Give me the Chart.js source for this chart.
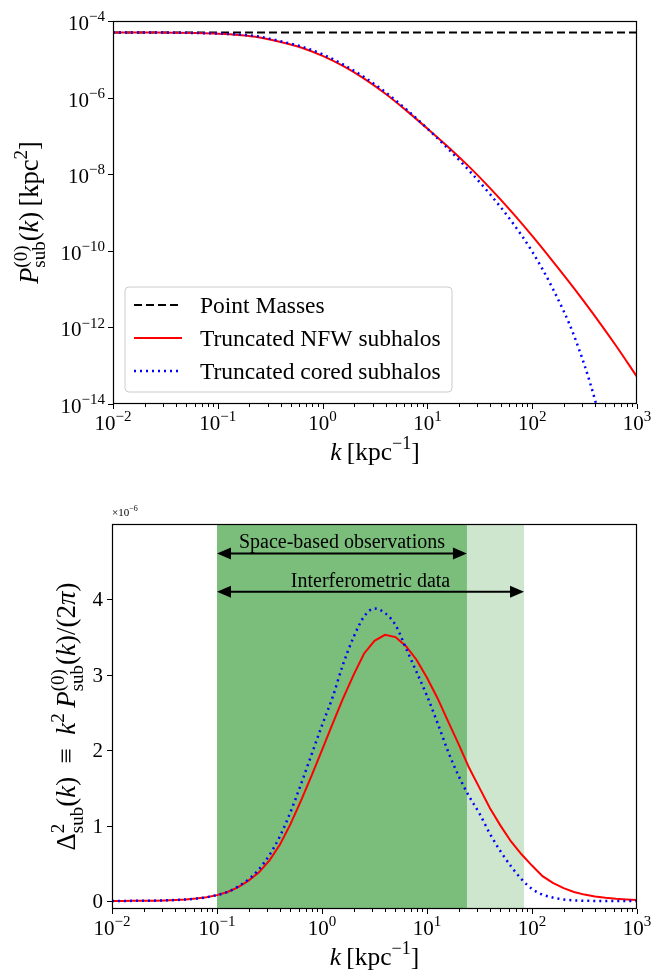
<!DOCTYPE html>
<html>
<head>
<meta charset="utf-8">
<script src="https://cdn.jsdelivr.net/npm/chart.js@4.4.1/dist/chart.umd.min.js"></script>
<style>
  html, body { margin: 0; padding: 0; background: #fff; }
  #wrap { position: relative; width: 667px; height: 971px; }
  canvas { position: absolute; left: 0; }
</style>
</head>
<body>
<div id="wrap">
  <canvas id="topChart" width="667" height="485" style="top:0"></canvas>
  <canvas id="bottomChart" width="667" height="486" style="top:485px"></canvas>
</div>
<script>
// ---- data ----

// top panel: P_sub^(0)(k) [kpc^2]
const kTop = [0.01, 0.0158, 0.0251, 0.0398, 0.0631, 0.1, 0.158, 0.251, 0.398, 0.631,
  1, 1.58, 2.51, 3.98, 6.31, 10, 15.8, 25.1, 39.8, 63.1, 100, 158, 251, 398, 631, 1000];
const nfwTop = [5.0e-5, 5.0e-5, 4.98e-5, 4.93e-5, 4.83e-5, 4.65e-5, 4.32e-5, 3.72e-5, 2.82e-5, 2.00e-5,
  1.23e-5, 6.61e-6, 3.09e-6, 1.26e-6, 4.57e-7, 1.55e-7, 5.13e-8, 1.55e-8, 4.27e-9, 1.07e-9,
  2.45e-10, 5.25e-11, 1.05e-11, 1.95e-12, 3.31e-13, 5.13e-14];
const coredTop = [5.0e-5, 5.0e-5, 4.99e-5, 4.95e-5, 4.86e-5, 4.70e-5, 4.42e-5, 3.89e-5, 2.95e-5, 2.14e-5,
  1.35e-5, 7.24e-6, 3.39e-6, 1.38e-6, 4.90e-7, 1.55e-7, 4.57e-8, 1.23e-8, 2.95e-9, 6.03e-10,
  9.55e-11, 1.0e-11, 6.03e-13, 1.26e-14, 6.3e-17, 1.0e-19];
const kPoint = [0.01, 1000];
const pointMass = [5.0e-5, 5.0e-5];

// bottom panel: Delta^2_sub(k), in units of 1e-6
const kBottom = [0.01, 0.0126, 0.0158, 0.02, 0.0251, 0.0316, 0.0398, 0.0501, 0.0631, 0.0794,
  0.1, 0.126, 0.158, 0.2, 0.251, 0.316, 0.398, 0.501, 0.631, 0.794,
  1, 1.26, 1.58, 2.0, 2.51, 3.16, 3.98, 5.01, 6.31, 7.94,
  10, 12.6, 15.8, 20, 25.1, 31.6, 39.8, 50.1, 63.1, 79.4,
  100, 126, 158, 200, 251, 316, 398, 501, 631, 794, 1000];
const nfwDelta = [0.001, 0.001, 0.002, 0.003, 0.005, 0.008, 0.013, 0.020, 0.032, 0.050,
  0.078, 0.12, 0.18, 0.27, 0.38, 0.54, 0.75, 1.02, 1.33, 1.66,
  2.00, 2.35, 2.68, 3.00, 3.28, 3.45, 3.53, 3.50, 3.38, 3.20,
  2.96, 2.69, 2.39, 2.08, 1.77, 1.50, 1.23, 1.00, 0.79, 0.62,
  0.47, 0.33, 0.24, 0.17, 0.12, 0.085, 0.060, 0.042, 0.029, 0.020, 0.013];
const coredDelta = [0.001, 0.001, 0.002, 0.003, 0.005, 0.008, 0.013, 0.020, 0.032, 0.050,
  0.079, 0.12, 0.19, 0.29, 0.42, 0.61, 0.86, 1.18, 1.55, 1.94,
  2.33, 2.70, 3.13, 3.50, 3.77, 3.88, 3.82, 3.66, 3.35, 3.04,
  2.72, 2.36, 1.99, 1.66, 1.39, 1.16, 0.89, 0.66, 0.46, 0.29,
  0.16, 0.085, 0.045, 0.020, 0.008, 0.003, 0.001, 0, 0, 0, 0];

// observational k ranges and arrow heights (bottom panel)
const spaceRange = [0.1, 24];
const interfRange = [0.1, 84];
const arrowLevels = [4.61, 4.1];
const arrowTexts = ['Space-based observations', 'Interferometric data'];

// ticks
const xTickExps = [-2, -1, 0, 1, 2, 3];
const topYTickExps = [-4, -6, -8, -10, -12, -14];
const bottomYTicks = [0, 1, 2, 3, 4];
const legendLabels = ['Point Masses', 'Truncated NFW subhalos', 'Truncated cored subhalos'];

// ---- text helpers ----
const SERIF = '"Liberation Serif", "DejaVu Serif", serif';
function fontOf(size, italic) {
  return (italic ? 'italic ' : '') + size + 'px ' + SERIF;
}

// parts: [text, italic, level(0 base, 1 sup, -1 sub), stackWithNext]
function layoutRich(ctx, parts, size) {
  let x = 0, stackX = null, stackW = 0;
  const items = [];
  parts.forEach(([text, italic, lvl, stack]) => {
    const s = lvl === 0 ? size : Math.round(size * 0.7);
    ctx.font = fontOf(s, italic);
    const w = ctx.measureText(text).width;
    const dy = lvl === 1 ? -size * 0.42 : lvl === -1 ? size * 0.28 : 0;
    if (stackX !== null) {
      items.push({ text, f: ctx.font, x: stackX, dy });
      x = stackX + Math.max(stackW, w);
      stackX = null;
    } else {
      items.push({ text, f: ctx.font, x, dy });
      if (stack) { stackX = x; stackW = w; }
      x += w;
    }
  });
  return { items, width: x };
}

function drawRich(ctx, parts, x, y, size, align, angle) {
  const lay = layoutRich(ctx, parts, size);
  ctx.save();
  ctx.translate(x, y);
  if (angle) ctx.rotate(angle);
  const x0 = align === 'center' ? -lay.width / 2 : align === 'right' ? -lay.width : 0;
  ctx.fillStyle = '#000';
  ctx.textAlign = 'left';
  ctx.textBaseline = 'alphabetic';
  lay.items.forEach(it => {
    ctx.font = it.f;
    ctx.fillText(it.text, x0 + it.x, it.dy);
  });
  ctx.restore();
}

function powLabel(e) {
  return [['10', false, 0], [(e < 0 ? '\u2212' : '') + Math.abs(e), false, 1]];
}

// ---- axis helpers ----
function drawFrame(ctx, a) {
  ctx.save();
  ctx.strokeStyle = '#000';
  ctx.lineWidth = 1.2;
  ctx.strokeRect(a.left + 0.5, a.top + 0.5, a.right - a.left - 1, a.bottom - a.top - 1);
  ctx.restore();
}

function drawLogX(ctx, sx, a) {
  ctx.save();
  ctx.strokeStyle = '#000';
  ctx.lineWidth = 1;
  ctx.beginPath();
  for (let e = xTickExps[0]; e < xTickExps[xTickExps.length - 1]; e++) {
    for (let m = 2; m <= 9; m++) {
      const px = Math.round(sx.getPixelForValue(m * Math.pow(10, e))) + 0.5;
      ctx.moveTo(px, a.bottom);
      ctx.lineTo(px, a.bottom + 3);
    }
  }
  xTickExps.forEach(e => {
    const px = Math.round(sx.getPixelForValue(Math.pow(10, e))) + 0.5;
    ctx.moveTo(px, a.bottom);
    ctx.lineTo(px, a.bottom + 5);
  });
  ctx.stroke();
  ctx.restore();
  xTickExps.forEach(e => {
    drawRich(ctx, powLabel(e), sx.getPixelForValue(Math.pow(10, e)), a.bottom + 26, 21, 'center');
  });
}

function xAxisTitle(ctx, a, y) {
  drawRich(ctx, [['k', true, 0], ['\u2009[kpc', false, 0], ['\u22121', false, 1], [']', false, 0]],
    (a.left + a.right) / 2, y, 25.5, 'center');
}

// ---- top panel decorations ----
const topDecor = {
  id: 'topDecor',
  afterDraw(chart) {
    const { ctx, chartArea: a, scales: { x, y } } = chart;
    drawFrame(ctx, a);
    drawLogX(ctx, x, a);

    ctx.save();
    ctx.strokeStyle = '#000';
    ctx.lineWidth = 1;
    ctx.beginPath();
    topYTickExps.forEach(e => {
      const py = Math.round(y.getPixelForValue(Math.pow(10, e))) + 0.5;
      ctx.moveTo(a.left, py);
      ctx.lineTo(a.left - 5, py);
    });
    ctx.stroke();
    ctx.restore();
    topYTickExps.forEach(e => {
      drawRich(ctx, powLabel(e), a.left - 8, y.getPixelForValue(Math.pow(10, e)) + 9, 21, 'right');
    });

    drawRich(ctx, [['P', true, 0], ['(0)', false, 1, true], ['sub', false, -1], ['(', false, 0], ['k', true, 0],
      [')', false, 0], ['\u2009[kpc', false, 0], ['2', false, 1], [']', false, 0]],
      38, (a.top + a.bottom) / 2, 26.5, 'center', -Math.PI / 2);
    xAxisTitle(ctx, a, a.bottom + 56);

    // legend box
    const lx = 125, ly = 287, lw = 327, lh = 105, r = 4;
    ctx.save();
    ctx.beginPath();
    ctx.moveTo(lx + r, ly);
    ctx.arcTo(lx + lw, ly, lx + lw, ly + lh, r);
    ctx.arcTo(lx + lw, ly + lh, lx, ly + lh, r);
    ctx.arcTo(lx, ly + lh, lx, ly, r);
    ctx.arcTo(lx, ly, lx + lw, ly, r);
    ctx.closePath();
    ctx.fillStyle = 'rgba(255,255,255,0.8)';
    ctx.fill();
    ctx.strokeStyle = '#cccccc';
    ctx.lineWidth = 1;
    ctx.stroke();
    const ds = chart.data.datasets;
    legendLabels.forEach((lab, i) => {
      const rowY = ly + 18 + i * 33;
      const d = ds[i];
      ctx.strokeStyle = d.borderColor;
      ctx.lineWidth = d.borderWidth;
      ctx.setLineDash(d.borderDash || []);
      ctx.beginPath();
      ctx.moveTo(lx + 9, rowY);
      ctx.lineTo(lx + 57, rowY);
      ctx.stroke();
      ctx.setLineDash([]);
      ctx.fillStyle = '#000';
      ctx.font = fontOf(23.5, false);
      ctx.textBaseline = 'alphabetic';
      ctx.fillText(lab, lx + 75, rowY + 8);
    });
    ctx.restore();
  }
};

// ---- bottom panel decorations ----
const bottomShade = {
  id: 'bottomShade',
  beforeDatasetsDraw(chart) {
    const { ctx, chartArea: a, scales: { x } } = chart;
    const x0 = x.getPixelForValue(interfRange[0]);
    const x1 = x.getPixelForValue(spaceRange[1]);
    const x2 = x.getPixelForValue(interfRange[1]);
    ctx.save();
    ctx.fillStyle = 'rgb(206,230,206)';
    ctx.fillRect(x0, a.top, x2 - x0, a.bottom - a.top);
    ctx.fillStyle = 'rgb(123,189,123)';
    ctx.fillRect(x0, a.top, x1 - x0, a.bottom - a.top);
    ctx.restore();
  }
};

function drawArrow(ctx, x1, x2, y) {
  const hl = 14, hw = 6;
  ctx.save();
  ctx.strokeStyle = '#000';
  ctx.fillStyle = '#000';
  ctx.lineWidth = 2;
  ctx.beginPath();
  ctx.moveTo(x1 + hl - 1, y);
  ctx.lineTo(x2 - hl + 1, y);
  ctx.stroke();
  ctx.beginPath();
  ctx.moveTo(x1, y);
  ctx.lineTo(x1 + hl, y - hw);
  ctx.lineTo(x1 + hl, y + hw);
  ctx.closePath();
  ctx.moveTo(x2, y);
  ctx.lineTo(x2 - hl, y - hw);
  ctx.lineTo(x2 - hl, y + hw);
  ctx.closePath();
  ctx.fill();
  ctx.restore();
}

const bottomDecor = {
  id: 'bottomDecor',
  afterDraw(chart) {
    const { ctx, chartArea: a, scales: { x, y } } = chart;
    drawFrame(ctx, a);
    drawLogX(ctx, x, a);

    ctx.save();
    ctx.strokeStyle = '#000';
    ctx.lineWidth = 1;
    ctx.beginPath();
    bottomYTicks.forEach(v => {
      const py = Math.round(y.getPixelForValue(v)) + 0.5;
      ctx.moveTo(a.left, py);
      ctx.lineTo(a.left - 5, py);
    });
    ctx.stroke();
    ctx.fillStyle = '#000';
    ctx.font = fontOf(21, false);
    ctx.textAlign = 'right';
    ctx.textBaseline = 'alphabetic';
    bottomYTicks.forEach(v => ctx.fillText(String(v), a.left - 9, y.getPixelForValue(v) + 7));
    ctx.restore();

    // offset text
    drawRich(ctx, [['\u00d710', false, 0], ['\u22126', false, 1]], a.left, a.top - 8, 11, 'left');

    // arrows with labels
    const ranges = [spaceRange, interfRange];
    ranges.forEach((rg, i) => {
      const px1 = x.getPixelForValue(rg[0]);
      const px2 = x.getPixelForValue(rg[1]);
      const py = y.getPixelForValue(arrowLevels[i]);
      drawArrow(ctx, px1, px2, py);
      const mid = x.getPixelForValue(Math.sqrt(rg[0] * rg[1]));
      ctx.save();
      ctx.fillStyle = '#000';
      ctx.font = fontOf(20, false);
      ctx.textAlign = 'center';
      ctx.textBaseline = 'alphabetic';
      ctx.fillText(arrowTexts[i], mid, py - 5);
      ctx.restore();
    });

    drawRich(ctx, [['\u0394', false, 0], ['2', false, 1, true], ['sub', false, -1], ['(', false, 0], ['k', true, 0],
      [')  \u2261  ', false, 0], ['k', true, 0], ['2', false, 1], ['\u2009', false, 0], ['P', true, 0],
      ['(0)', false, 1, true], ['sub', false, -1], ['(', false, 0], ['k', true, 0], [')/(2', false, 0],
      ['\u03c0', true, 0], [')', false, 0]],
      75, (a.top + a.bottom) / 2, 27, 'center', -Math.PI / 2);
    xAxisTitle(ctx, a, a.bottom + 56);
  }
};

function points(xs, ys) {
  return xs.map((k, i) => ({ x: k, y: ys[i] }));
}

new Chart(document.getElementById('topChart'), {
  type: 'line',
  data: {
    datasets: [
      { label: legendLabels[0], data: points(kPoint, pointMass), borderColor: '#000000',
        borderWidth: 2, borderDash: [8, 4], pointRadius: 0, order: 2 },
      { label: legendLabels[1], data: points(kTop, nfwTop), borderColor: '#ff0000',
        borderWidth: 2, pointRadius: 0, cubicInterpolationMode: 'monotone', order: 1 },
      { label: legendLabels[2], data: points(kTop, coredTop), borderColor: '#0000ff',
        borderWidth: 2.5, borderDash: [2, 4], pointRadius: 0, cubicInterpolationMode: 'monotone', order: 0 }
    ]
  },
  options: {
    responsive: false,
    animation: false,
    devicePixelRatio: 1,
    layout: { padding: { left: 113, right: 30, top: 21, bottom: 81 } },
    scales: {
      x: { type: 'logarithmic', min: 0.01, max: 1000, display: false },
      y: { type: 'logarithmic', min: 1e-14, max: 1e-4, display: false }
    },
    plugins: { legend: { display: false }, tooltip: { enabled: false } }
  },
  plugins: [topDecor]
});

new Chart(document.getElementById('bottomChart'), {
  type: 'line',
  data: {
    datasets: [
      { label: legendLabels[1], data: points(kBottom, nfwDelta), borderColor: '#ff0000',
        borderWidth: 2, pointRadius: 0, tension: 0, order: 1 },
      { label: legendLabels[2], data: points(kBottom, coredDelta), borderColor: '#0000ff',
        borderWidth: 2.5, borderDash: [2, 4], pointRadius: 0, cubicInterpolationMode: 'monotone', order: 0 }
    ]
  },
  options: {
    responsive: false,
    animation: false,
    devicePixelRatio: 1,
    layout: { padding: { left: 112, right: 30, top: 39, bottom: 62 } },
    scales: {
      x: { type: 'logarithmic', min: 0.01, max: 1000, display: false },
      y: { type: 'linear', min: -0.106, max: 5.0, display: false }
    },
    plugins: { legend: { display: false }, tooltip: { enabled: false } }
  },
  plugins: [bottomShade, bottomDecor]
});
</script>
</body>
</html>
